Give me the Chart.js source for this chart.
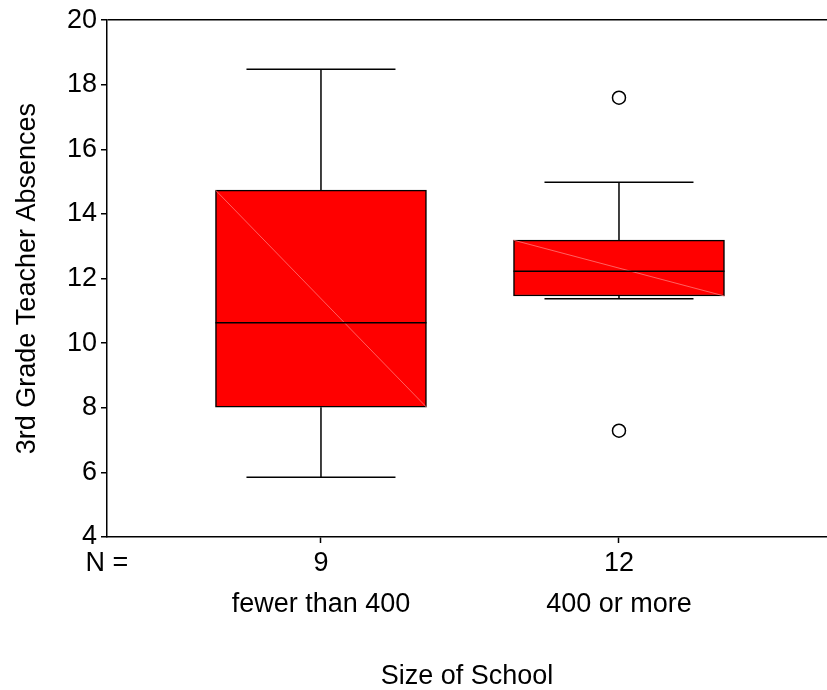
<!DOCTYPE html>
<html>
<head>
<meta charset="utf-8">
<title>3rd Grade Teacher Absences by Size of School</title>
<script src="https://cdn.jsdelivr.net/npm/chart.js@4.4.1/dist/chart.umd.min.js"></script>
<style>
  html, body { margin: 0; padding: 0; background: #fff; }
  #boxChart { display: block; }
</style>
</head>
<body>
<canvas id="boxChart" width="827" height="690"></canvas>
<script>
// Values
const groups = ["fewer than 400", "400 or more"];
const groupN = [9, 12];
const groupX = [1, 2];
const whiskerLow = [5.85, 11.38];
const q1 = [8.02, 11.46];
const median = [10.63, 12.23];
const q3 = [14.74, 13.19];
const whiskerHigh = [18.48, 14.98];
const outliers = [[], [17.6, 7.29]];
const yTicks = [4, 6, 8, 10, 12, 14, 16, 18, 20];

// Axis range and box sizes (in x units)
const X_MIN = 0.282, X_MAX = 2.698;
const BOX_HALF = 0.354, CAP_HALF = 0.25;
const FONT = "'Liberation Sans', Arial, Helvetica, sans-serif";

// Builds line points, a null y breaks the line between segments
const medianPts = [], whiskerPts = [], diagPts = [];
groupX.forEach((x, i) => {
    medianPts.push({ x: x - BOX_HALF, y: median[i] }, { x: x + BOX_HALF, y: median[i] }, { x: x, y: null });
    whiskerPts.push(
        { x: x - CAP_HALF, y: whiskerHigh[i] }, { x: x + CAP_HALF, y: whiskerHigh[i] }, { x: x, y: null },
        { x: x, y: whiskerHigh[i] }, { x: x, y: q3[i] }, { x: x, y: null },
        { x: x, y: q1[i] }, { x: x, y: whiskerLow[i] }, { x: x, y: null },
        { x: x - CAP_HALF, y: whiskerLow[i] }, { x: x + CAP_HALF, y: whiskerLow[i] }, { x: x, y: null }
    );
    // faint diagonal seam seen inside each box
    diagPts.push({ x: x - BOX_HALF, y: q3[i] }, { x: x + BOX_HALF, y: q1[i] }, { x: x, y: null });
});
const outlierPts = outliers.flatMap((arr, i) => arr.map(v => ({ x: groupX[i], y: v })));

const lineStyle = { type: 'line', borderColor: '#000', borderWidth: 1.5, pointRadius: 0, fill: false, spanGaps: false, tension: 0 };

new Chart(document.getElementById('boxChart'), {
    type: 'bar',
    data: {
        datasets: [
            {
                type: 'bar',
                data: groupX.map((x, i) => ({ x: x, y: [q1[i], q3[i]] })),
                backgroundColor: '#ff0000',
                borderColor: '#000',
                borderWidth: 1.5,
                borderSkipped: false,
                barThickness: 211,
                order: 5
            },
            Object.assign({}, lineStyle, { data: diagPts, borderColor: 'rgba(255,120,120,0.8)', borderWidth: 1, order: 4 }),
            Object.assign({}, lineStyle, { data: medianPts, order: 2 }),
            Object.assign({}, lineStyle, { data: whiskerPts, order: 3 }),
            {
                type: 'scatter',
                data: outlierPts,
                pointStyle: 'circle',
                pointRadius: 6.5,
                backgroundColor: '#fff',
                borderColor: '#000',
                borderWidth: 1.5,
                order: 0
            }
        ]
    },
    options: {
        responsive: false,
        devicePixelRatio: 1,
        animation: false,
        events: [],
        // no auto padding, so the plot runs to the right edge like the original
        layout: { autoPadding: false, padding: { top: 20, left: 0, right: 0, bottom: 0 } },
        plugins: { legend: { display: false }, tooltip: { enabled: false } },
        scales: {
            x: {
                type: 'linear',
                min: X_MIN,
                max: X_MAX,
                offset: false,
                afterBuildTicks: s => { s.ticks = [X_MIN].concat(groupX).map(v => ({ value: v })); },
                afterFit: s => { s.height = 153; s.paddingLeft = 0; s.paddingRight = 0; },
                ticks: {
                    autoSkip: false, maxRotation: 0, minRotation: 0, padding: 0, color: '#000',
                    font: { family: FONT, size: 27, lineHeight: 1.52 },
                    callback: v => {
                        const i = groupX.indexOf(v);
                        return i < 0 ? ['N =', ''] : [String(groupN[i]), groups[i]];
                    }
                },
                grid: {
                    offset: false, drawOnChartArea: false, tickLength: 6, tickWidth: 1.5,
                    tickColor: c => (c.tick && c.tick.value === X_MIN) ? 'rgba(0,0,0,0)' : '#000'
                },
                border: { display: true, color: '#000', width: 1.5 },
                title: {
                    display: true, text: 'Size of School', color: '#000',
                    font: { family: FONT, size: 27, lineHeight: 1 }, padding: { top: 0, bottom: 0 }
                }
            },
            y: {
                type: 'linear',
                min: 4,
                max: 20,
                beginAtZero: false,
                afterBuildTicks: s => { s.ticks = yTicks.map(v => ({ value: v })); },
                afterFit: s => { s.width = 107; },
                ticks: { padding: 4, color: '#000', font: { family: FONT, size: 27 } },
                grid: {
                    lineWidth: 1.5, tickLength: 6, tickWidth: 1.5, tickColor: '#000',
                    // only the top line of the frame is drawn across the plot
                    color: c => (c.tick && c.tick.value === 20) ? '#000' : 'rgba(0,0,0,0)'
                },
                border: { display: true, color: '#000', width: 1.5 },
                title: {
                    display: true, text: '3rd Grade Teacher Absences', color: '#000',
                    font: { family: FONT, size: 27, lineHeight: 1.2 }, padding: { top: 11, bottom: 0 }
                }
            }
        }
    }
});
</script>
</body>
</html>
